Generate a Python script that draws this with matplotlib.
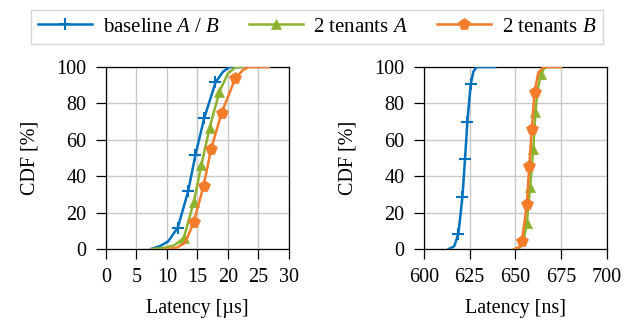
import matplotlib
matplotlib.use("Agg")
import matplotlib.pyplot as plt
from matplotlib.lines import Line2D

plt.rcParams['font.family'] = ['Liberation Serif', 'DejaVu Serif']
plt.rcParams['mathtext.fontset'] = 'custom'
plt.rcParams['mathtext.it'] = 'Liberation Serif:italic'
plt.rcParams['mathtext.rm'] = 'Liberation Serif'

labels = ["baseline $A$ / $B$", "2 tenants $A$", "2 tenants $B$"]
colors = ['#0072BD', '#8DB32E', '#F47B2A']
markers = ['+', '^', 'p']

# Left panel (µs)
us_base_x = [7.4, 8.8, 10.2, 11.77, 13.46, 14.67, 16.09, 17.95, 19.2, 20.3, 22.0]
us_base_y = [0, 1.5, 4.2, 11.8, 31.6, 51.8, 71.8, 91.5, 97.5, 100, 100]
us_base_m = [3, 4, 5, 6, 7]
us_a_x = [7.5, 9.5, 11.2, 12.75, 14.4, 15.65, 16.97, 18.6, 20.0, 21.3, 23.0]
us_a_y = [0, 0.6, 2.0, 6.0, 26.0, 46.4, 66.5, 86.5, 96.5, 100, 100]
us_a_m = [3, 4, 5, 6, 7]
us_b_x = [9.85, 11.5, 13.0, 14.4, 16.0, 17.24, 18.94, 21.2, 22.5, 23.5, 26.7]
us_b_y = [0, 0.5, 3.5, 14.9, 34.7, 55.0, 74.7, 93.8, 98.5, 100, 100]
us_b_m = [3, 4, 5, 6, 7]

# Right panel (ns)
ns_base_x = [613.5, 616.5, 618.8, 621.0, 622.4, 623.7, 625.5, 627.0, 628.8, 638.9]
ns_base_y = [0, 1.5, 8.4, 28.7, 49.3, 69.8, 90.4, 97.5, 100, 100]
ns_base_m = [2, 3, 4, 5, 6]
ns_a_x = [651.6, 654.0, 656.2, 658.0, 659.7, 660.9, 662.0, 663.9, 665.5, 667.0, 674.8]
ns_a_y = [0, 2.5, 14.2, 34.2, 54.9, 75.1, 87.0, 96.0, 99.0, 100, 100]
ns_a_m = [2, 3, 4, 5, 7]
ns_b_x = [649.3, 652.0, 653.5, 656.2, 657.5, 658.9, 660.4, 662.5, 665.3, 674.8]
ns_b_y = [0, 1.0, 4.2, 24.5, 45.5, 65.8, 86.5, 97.0, 100, 100]
ns_b_m = [2, 3, 4, 5, 6]

fig = plt.figure(figsize=(6.34, 3.26), dpi=100)
ax1 = fig.add_axes([106/634, 1-249/326, 183/634, 182/326])
ax2 = fig.add_axes([424/634, 1-249/326, 183/634, 182/326])

msizes = [8.5, 7, 8.5]
FS = 14.5

def draw(ax, series):
    for (x, y, m), c, mk, ms in zip(series, colors, markers, msizes):
        ax.plot(x, y, color=c, lw=1.8, marker=mk, markevery=m, ms=ms,
                mew=1.5 if mk == '+' else 0.5, mec=c, mfc=c, zorder=3)
    ax.set_ylim(0, 100)
    ax.set_yticks([0, 20, 40, 60, 80, 100])
    ax.grid(True, color='#c8c8c8', lw=1)
    ax.set_axisbelow(True)
    ax.tick_params(direction='out', length=7, width=0.9, labelsize=FS)
    ax.tick_params(axis='x', pad=6.5)
    ax.tick_params(axis='y', pad=7)
    for s in ax.spines.values():
        s.set_linewidth(0.9)
    ax.set_ylabel("CDF [%]", fontsize=FS, labelpad=12)

draw(ax1, [(us_base_x, us_base_y, us_base_m), (us_a_x, us_a_y, us_a_m), (us_b_x, us_b_y, us_b_m)])
ax1.set_xlim(0, 30)
ax1.set_xticks([0, 5, 10, 15, 20, 25, 30])
ax1.set_xlabel("Latency [µs]", fontsize=FS, labelpad=9)

draw(ax2, [(ns_base_x, ns_base_y, ns_base_m), (ns_a_x, ns_a_y, ns_a_m), (ns_b_x, ns_b_y, ns_b_m)])
ax2.set_xlim(600, 700)
ax2.set_xticks([600, 625, 650, 675, 700])
ax2.set_xlabel("Latency [ns]", fontsize=FS, labelpad=9)

handles = [Line2D([], [], color=c, lw=1.8, marker=mk, ms=ms,
                  mew=1.5 if mk == '+' else 0.5, mec=c, mfc=c)
           for c, mk, ms in zip(colors, markers, msizes)]
leg = fig.legend(handles, labels, loc='center', bbox_to_anchor=(317/634, 1-27/326),
                 ncol=3, frameon=True, fancybox=False, fontsize=15,
                 handlelength=2.6, columnspacing=1.4, handletextpad=0.5,
                 borderpad=0.35)
leg.get_frame().set_edgecolor('#cccccc')
leg.get_frame().set_linewidth(1)

fig.savefig("out.png", dpi=100)
